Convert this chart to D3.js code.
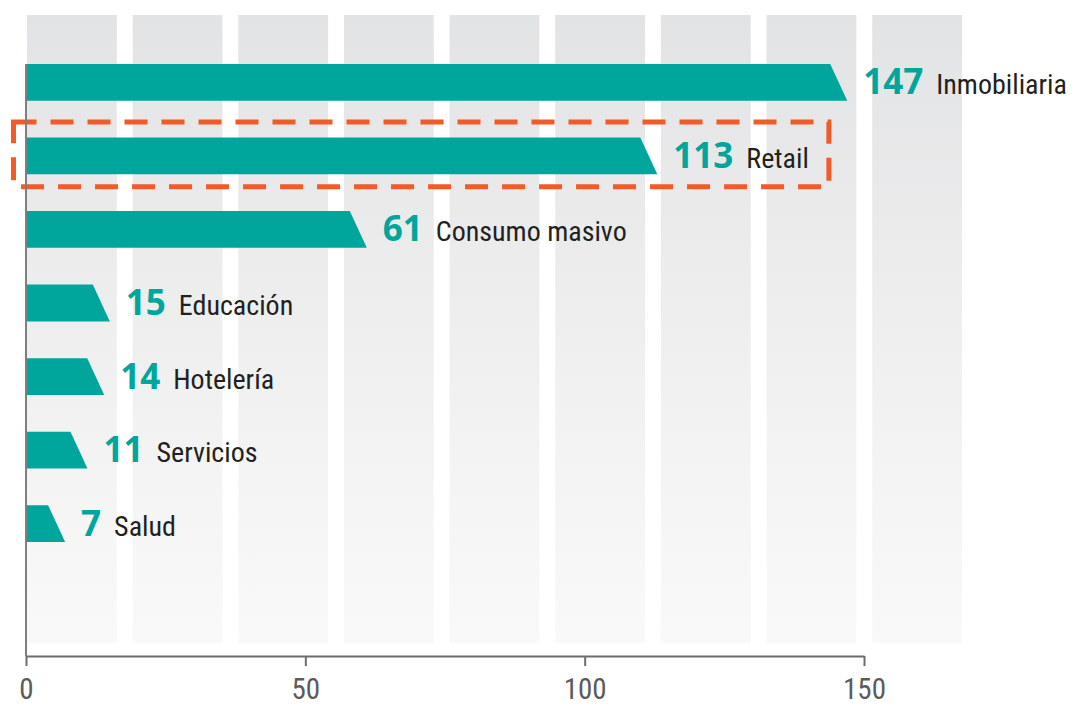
<!DOCTYPE html>
<html>
<head>
<meta charset="utf-8">
<script src="https://cdn.jsdelivr.net/npm/d3@7"></script>
<style>
  html, body { margin: 0; padding: 0; background: #fff; }
  svg { display: block; }
  .cat { font-family: "Liberation Sans Narrow", "Roboto Condensed", "DejaVu Sans Condensed", sans-serif; font-stretch: condensed; }
  .num { font-family: "Open Sans", "Noto Sans", sans-serif; font-weight: 700; }
</style>
</head>
<body>
<svg id="chart" width="1075" height="706"></svg>
<script>
// Sector counts
const categories = ["Inmobiliaria", "Retail", "Consumo masivo", "Educación", "Hotelería", "Servicios", "Salud"];
const values = [147, 113, 61, 15, 14, 11, 7];
const tickValues = [0, 50, 100, 150];
const highlighted = "Retail";

const svg = d3.select("#chart");

const x = d3.scaleLinear().domain([0, 150]).range([26, 864]);
const y = d3.scaleBand().domain(categories).range([64, 542]).paddingInner(0.5);
const axisY = 656;

// Background columns with vertical fade
const defs = svg.append("defs");
const grad = defs.append("linearGradient")
  .attr("id", "colFade").attr("x1", 0).attr("y1", 0).attr("x2", 0).attr("y2", 1);
grad.append("stop").attr("offset", "0%").attr("stop-color", "#e2e3e4");
grad.append("stop").attr("offset", "70%").attr("stop-color", "#f3f3f3");
grad.append("stop").attr("offset", "100%").attr("stop-color", "#f9f9f9");

const cols = d3.scaleBand().domain(d3.range(9)).range([27, 962]).paddingInner(0.15);
svg.append("g").selectAll("rect")
  .data(cols.domain())
  .join("rect")
  .attr("x", d => cols(d))
  .attr("y", 15)
  .attr("width", cols.bandwidth())
  .attr("height", 643 - 15)
  .attr("fill", "url(#colFade)");

// Bars with a slanted right end
const data = categories.map((c, i) => ({ cat: c, value: values[i] }));
const slant = 17;
svg.append("g").selectAll("path")
  .data(data)
  .join("path")
  .attr("d", d => {
    const y0 = y(d.cat), y1 = y0 + y.bandwidth();
    const xe = x(d.value);
    return `M${x(0)},${y0}L${xe - slant},${y0}L${xe},${y1}L${x(0)},${y1}Z`;
  })
  .attr("fill", "#00a59b");

// Value and category labels
const labels = svg.append("g").selectAll("g")
  .data(data)
  .join("g")
  .attr("transform", d => `translate(${x(d.value) + 16},${y(d.cat) + y.bandwidth() / 2 + 12})`);

labels.append("text")
  .attr("class", "num")
  .attr("font-size", 35)
  .attr("fill", "#00a59b")
  .text(d => d.value);

labels.each(function() {
  const g = d3.select(this);
  const w = g.select("text.num").node().getComputedTextLength();
  g.append("text")
    .attr("class", "cat")
    .attr("x", w + 13)
    .attr("font-size", 28)
    .attr("fill", "#231f20")
    .text(d => d.cat);
});

// Dashed frame around the highlighted sector
const hl = labels.filter(d => d.cat === highlighted);
const hd = hl.datum();
const catNode = hl.select("text.cat").node();
const rightEdge = x(hd.value) + 16 + (+catNode.getAttribute("x")) + catNode.getComputedTextLength() + 20;
svg.append("rect")
  .attr("x", x(0) - 12.5)
  .attr("y", y(hd.cat) - 15.5)
  .attr("width", rightEdge - (x(0) - 12.5))
  .attr("height", y.bandwidth() + 28)
  .attr("fill", "none")
  .attr("stroke", "#f15a29")
  .attr("stroke-width", 5)
  .attr("stroke-dasharray", "23 14");

// Vertical baseline
svg.append("line")
  .attr("x1", x(0)).attr("x2", x(0))
  .attr("y1", y.range()[0]).attr("y2", axisY)
  .attr("stroke", "#7f7f7f").attr("stroke-width", 2);

// Bottom axis
const xAxis = svg.append("g")
  .attr("transform", `translate(0,${axisY})`)
  .call(d3.axisBottom(x).tickValues(tickValues).tickSize(10).tickSizeOuter(0));
xAxis.select(".domain").attr("stroke", "#6d6d6d").attr("stroke-width", 2);
xAxis.selectAll(".tick line").attr("stroke", "#6d6d6d").attr("stroke-width", 2);
xAxis.selectAll(".tick text")
  .attr("class", "cat")
  .attr("font-size", 29)
  .attr("fill", "#5b5b5b")
  .attr("y", 22)
  .attr("dy", "0.71em");
</script>
</body>
</html>
